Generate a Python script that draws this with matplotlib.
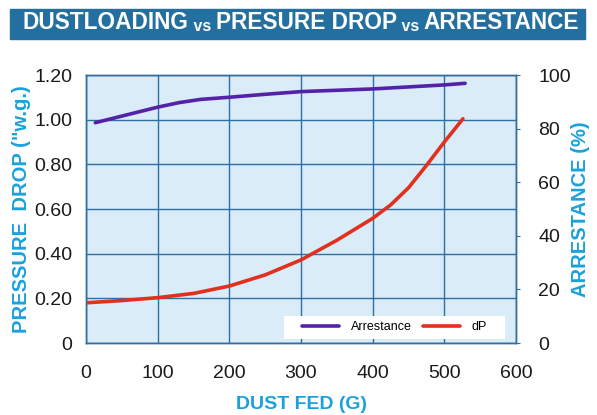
import matplotlib
matplotlib.use("Agg")
import matplotlib.pyplot as plt
from matplotlib.patches import Rectangle

# data
dust_dp = [0, 50, 100, 150, 200, 250, 300, 350, 400, 425, 450, 475, 500, 526]
dp = [0.18, 0.19, 0.203, 0.222, 0.255, 0.305, 0.372, 0.46, 0.558, 0.618, 0.695,
      0.795, 0.90, 1.004]

dust_arr = [13, 100, 130, 160, 200, 250, 300, 400, 500, 529]
arrestance = [82.2, 88.0, 89.7, 90.9, 91.7, 92.8, 93.8, 94.8, 96.3, 96.9]

x_ticks = [0, 100, 200, 300, 400, 500, 600]
left_ticks = [0, 0.2, 0.4, 0.6, 0.8, 1.0, 1.2]
left_labels = ["0", "0.20", "0.40", "0.60", "0.80", "1.00", "1.20"]
right_ticks = [0, 20, 40, 60, 80, 100]

plt.rcParams['font.family'] = ['Liberation Sans', 'DejaVu Sans']

bar_blue = "#236FA0"
cyan = "#1BA1DC"
grid_blue = "#2F6FA3"
bg = "#DAECF8"
purple = "#5422A8"
red = "#E2301E"

W, H = 597, 415
fig = plt.figure(figsize=(W / 100, H / 100), dpi=100)

# title bar
fig.patches.append(Rectangle((10 / W, 1 - 39 / H), 575 / W, 30 / H,
                             transform=fig.transFigure, color=bar_blue, zorder=0))
parts = [("DUSTLOADING", 16.3), (" vs ", 11.5), ("PRESURE DROP", 16.3),
         (" vs ", 11.5), ("ARRESTANCE", 16.3)]
prev = fig.text(23 / W, 1 - 34 / H, parts[0][0], color="white", fontsize=parts[0][1],
                fontweight="bold", ha="left", va="bottom")
for txt, sz in parts[1:]:
    prev = fig.add_artist(matplotlib.text.Annotation(
        txt, xy=(1, 0), xycoords=prev, ha="left", va="bottom",
        color="white", fontsize=sz, fontweight="bold"))

ax = fig.add_axes([86 / W, 1 - 343 / H, 430 / W, 268 / H])
ax.set_facecolor(bg)
ax2 = ax.twinx()

ax.plot(dust_dp, dp, color=red, lw=2.6, solid_capstyle="round",
        solid_joinstyle="round", label="dP", zorder=3)
ax2.plot(dust_arr, arrestance, color=purple, lw=2.6, solid_capstyle="round",
         solid_joinstyle="round", label="Arrestance", zorder=3)

ax.set_xlim(0, 600)
ax.set_ylim(0, 1.2)
ax2.set_ylim(0, 100)

ax.set_xticks(x_ticks)
ax.set_xticklabels([str(v) for v in x_ticks])
ax.set_yticks(left_ticks)
ax.set_yticklabels(left_labels)
ax2.set_yticks(right_ticks)

ax.grid(True, color=grid_blue, lw=1.0)
ax.set_axisbelow(True)
ax.tick_params(axis="both", length=0, labelsize=14, colors="#1a1a1a")
ax.tick_params(axis="x", pad=16)
ax.tick_params(axis="y", pad=10)
ax2.tick_params(axis="y", length=3, width=0.8, color=grid_blue, labelsize=14,
                labelcolor="#1a1a1a", pad=13)

for a in (ax, ax2):
    for s in a.spines.values():
        s.set_color(grid_blue)
        s.set_linewidth(1.0)

ax.set_xlabel("DUST FED (G)", color=cyan, fontsize=14, fontweight="bold", labelpad=10)
ax.set_ylabel('PRESSURE  DROP ("w.g.)', color=cyan, fontsize=14.5, fontweight="bold", labelpad=2)
ax2.set_ylabel("ARRESTANCE (%)", color=cyan, fontsize=14.5, fontweight="bold", labelpad=0)

# white legend box
ax2.add_patch(Rectangle((0.4605, 0.015), 0.5135, 0.086, transform=ax2.transAxes,
                        facecolor="white", edgecolor="none", zorder=1))
h1, l1 = ax2.get_legend_handles_labels()
h2, l2 = ax.get_legend_handles_labels()
leg = ax2.legend(h1 + h2, l1 + l2, loc="center", bbox_to_anchor=(0.717, 0.058),
                 ncol=2, frameon=False, fontsize=9, handlelength=3.0,
                 columnspacing=0.9, borderpad=0.2, handletextpad=0.9, borderaxespad=0)

fig.savefig("out.png", dpi=100)
